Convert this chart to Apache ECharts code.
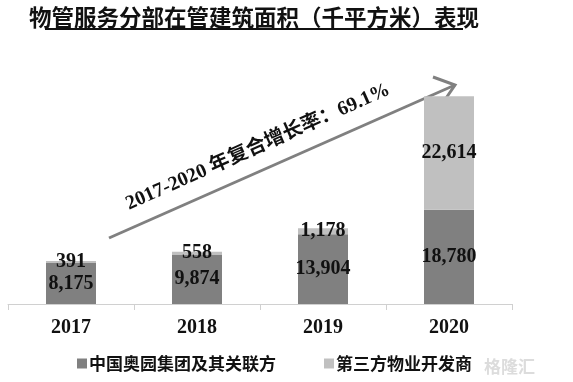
<!DOCTYPE html>
<html><head><meta charset="utf-8">
<script src="https://cdn.jsdelivr.net/npm/echarts@6/dist/echarts.min.js"></script>
<style>html,body{margin:0;padding:0;background:#fff}#c{width:573px;height:382px}</style>
</head><body><div id="c"></div>
<script>
const categories = ['2017', '2018', '2019', '2020'];
const groupValues = [8175, 9874, 13904, 18780];
const thirdPartyValues = [391, 558, 1178, 22614];
const seriesNames = ['中国奥园集团及其关联方', '第三方物业开发商'];
const titleText = '物管服务分部在管建筑面积（千平方米）表现';
const cagrText = '2017-2020 年复合增长率：69.1%';

const serif = '"Liberation Serif", "Times New Roman", "Noto Sans CJK SC", serif';
const fmt = v => v.toLocaleString('en-US');
const chart = echarts.init(document.getElementById('c'));
const labelStyle = {show: true, position: 'inside', color: '#111', fontWeight: 'bold', fontFamily: serif, fontSize: 20,
  formatter: p => fmt(p.value)};
chart.setOption({
  animation: false,
  grid: {left: 8, right: 61, top: 43, bottom: 78},
  xAxis: {type: 'category', data: categories,
    axisLine: {lineStyle: {color: '#d0d0d0', width: 1}},
    axisTick: {show: true, length: 6, lineStyle: {color: '#d0d0d0'}},
    axisLabel: {color: '#111', fontWeight: 'bold', fontFamily: serif, fontSize: 20, margin: 14}},
  yAxis: {type: 'value', min: 0, max: 52000, show: false, splitLine: {show: false}},
  legend: {bottom: 5, left: 72, itemWidth: 10, itemHeight: 10, itemGap: 48, icon: 'rect',
    textStyle: {fontFamily: '"Noto Sans CJK SC"', fontWeight: 'bold', fontSize: 17, color: '#111', padding: [0,0,0,-3]}},
  series: [
    {name: seriesNames[0], type: 'bar', stack: 's', data: groupValues, barWidth: 50,
      itemStyle: {color: '#808080'}, label: labelStyle},
    {name: seriesNames[1], type: 'bar', stack: 's', data: thirdPartyValues, barWidth: 50,
      itemStyle: {color: '#c0c0c0'}, label: labelStyle}
  ],
  graphic: [
    {type: 'text', x: 254, y: 17, style: {text: titleText, font: 'bold 22.5px "Noto Sans CJK SC"', fill: '#111', align: 'center', verticalAlign: 'middle'}},
    {type: 'line', shape: {x1: 45, y1: 29, x2: 463, y2: 29}, style: {stroke: '#111', lineWidth: 2}},
    {type: 'polyline', shape: {points: [[109, 238], [455, 85]]}, style: {stroke: '#808080', lineWidth: 3}},
    {type: 'polyline', shape: {points: [[433, 77], [455, 85], [442, 104]]}, style: {stroke: '#808080', lineWidth: 3, fill: null}},
    {type: 'text', x: 258, y: 147, rotation: 0.417, style: {text: cagrText, font: 'bold 20px ' + serif, fill: '#111', align: 'center', verticalAlign: 'middle'}},
    {type: 'text', x: 484, y: 358, z: 100, style: {text: '格隆汇', font: 'bold 17px "Noto Sans CJK SC"', fill: '#dcdcdc'}}
  ]
});
</script></body></html>
